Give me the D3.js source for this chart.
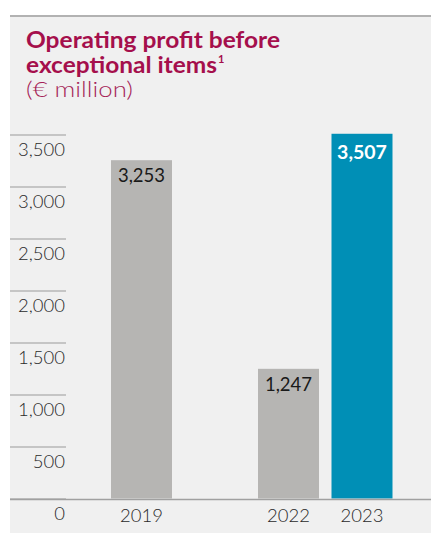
<html>
  <head>
    <title>Operating profit</title>
    <script src="https://cdn.jsdelivr.net/npm/d3@7"></script>
    <style>
body { margin: 0; background: #fff; }
text { font-family: Lato, "Open Sans", sans-serif; }
    </style>
  </head>
  <body>
    <script>

var years = ["2019", "2022", "2023"],
    slots = ["2019", "gap", "2022", "2023"],
    values = [3253, 1247, 3507],
    barColors = ["#b6b5b3", "#b6b5b3", "#008fb6"],
    tickValues = [0, 500, 1000, 1500, 2000, 2500, 3000, 3500];

var w = 431,
    h = 533;

var svg = d3.select("body").append("svg")
    .attr("width", w)
    .attr("height", h);

// panel
svg.append("rect")
    .attr("x", 10).attr("y", 16)
    .attr("width", w - 10).attr("height", h - 16)
    .attr("fill", "#f0f0f0");

svg.append("line")
    .attr("x1", 10).attr("x2", w)
    .attr("y1", 16).attr("y2", 16)
    .attr("stroke", "#b2b2b2")
    .attr("stroke-width", 2);

// title (stretched a bit, the original face is wider)
var title = svg.append("g").attr("fill", "#a50f4c");
title.append("text")
    .attr("x", 26).attr("y", 48)
    .attr("font-size", 22).attr("font-weight", 700)
    .attr("textLength", 254).attr("lengthAdjust", "spacingAndGlyphs")
    .text("Operating profit before");
title.append("text")
    .attr("x", 26).attr("y", 73)
    .attr("font-size", 22).attr("font-weight", 700)
    .attr("textLength", 191).attr("lengthAdjust", "spacingAndGlyphs")
    .text("exceptional items");
title.append("text")
    .attr("x", 218).attr("y", 63)
    .attr("font-size", 11).attr("font-weight", 700)
    .text("1");
title.append("text")
    .attr("x", 26).attr("y", 97)
    .attr("font-size", 21).attr("font-weight", 300)
    .attr("fill", "#a51f58")
    .attr("textLength", 107).attr("lengthAdjust", "spacingAndGlyphs")
    .text("(€ million)");

var x = d3.scaleBand()
    .domain(slots)
    .range([111, 392.5])
    .paddingInner(0.17)
    .paddingOuter(0);

var y = d3.scaleLinear()
    .domain([0, 3500])
    .range([498.5, 134.5]);

// y axis: lines above the labels
var yAxis = d3.axisLeft(y)
    .tickValues(tickValues)
    .tickSize(56)
    .tickFormat(d3.format(","));

var ya = svg.append("g")
    .attr("transform", "translate(66,0)")
    .call(yAxis);
ya.select(".domain").remove();
ya.selectAll(".tick line").attr("stroke", "#9a9a9a");
ya.selectAll(".tick text")
    .attr("x", -1)
    .attr("dy", 21)
    .attr("fill", "#2a2a2a")
    .attr("font-size", 18.5)
    .attr("font-weight", 300)
    .attr("font-family", "Lato, sans-serif");

// bars
var bars = svg.selectAll("g.bar")
    .data(years)
  .enter().append("g")
    .attr("class", "bar");

bars.append("rect")
    .attr("x", function(d) { return x(d); })
    .attr("y", function(d, i) { return y(values[i]); })
    .attr("width", x.bandwidth())
    .attr("height", function(d, i) { return y(0) - y(values[i]); })
    .attr("fill", function(d, i) { return barColors[i]; });

bars.append("text")
    .attr("x", function(d) { return x(d) + x.bandwidth() / 2; })
    .attr("y", function(d, i) { return y(values[i]) + (i == 2 ? 25 : 22); })
    .attr("text-anchor", "middle")
    .attr("font-size", function(d, i) { return i == 2 ? 19.5 : 18.5; })
    .attr("font-weight", function(d, i) { return i == 2 ? 700 : 400; })
    .attr("fill", function(d, i) { return i == 2 ? "#fff" : "#1a1a1a"; })
    .text(function(d, i) { return d3.format(",")(values[i]); });

bars.append("text")
    .attr("x", function(d) { return x(d) + x.bandwidth() / 2; })
    .attr("y", 522)
    .attr("text-anchor", "middle")
    .attr("font-size", 18.5)
    .attr("font-weight", 300)
    .attr("fill", "#2a2a2a")
    .text(function(d) { return d; });

// baseline
svg.append("line")
    .attr("x1", 10).attr("x2", w)
    .attr("y1", y(0) + 1).attr("y2", y(0) + 1)
    .attr("stroke", "#a0a0a0")
    .attr("stroke-width", 1.5);

    </script>
  </body>
</html>
